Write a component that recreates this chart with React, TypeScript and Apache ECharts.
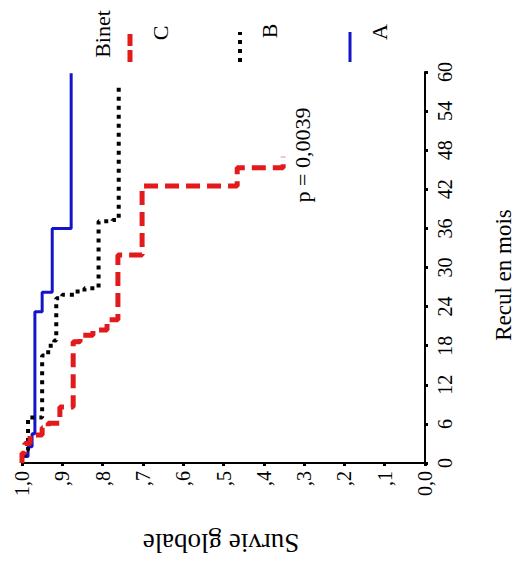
import React, { useEffect, useRef } from 'react';
import * as echarts from 'echarts';

// Survival axis tick labels (index = value * 10)
const survTickLabels = ['0,0', ',1', ',2', ',3', ',4', ',5', ',6', ',7', ',8', ',9', '1,0'];

// Group A (Binet A)
const timesA = [0, 1, 2.5, 4.5, 23.2, 26.2, 36.0];
const survA = [1, 0.985, 0.975, 0.968, 0.95, 0.925, 0.878];
const endA = 59.8;

// Group B (Binet B)
const timesB = [0, 0.5, 2, 7, 16.5, 18, 18.8, 25.3, 25.8, 26.3, 26.8, 37.1, 37.3];
const survB = [1, 0.993, 0.985, 0.95, 0.935, 0.92, 0.915, 0.9, 0.87, 0.845, 0.81, 0.775, 0.76];
const endB = 57.8;

// Group C (Binet C)
const timesC = [0, 1.5, 3, 4.3, 5.4, 6.1, 8.6, 18.6, 19.6, 20.4, 22.0, 31.9, 42.5, 45.3];
const survC = [1, 0.993, 0.98, 0.95, 0.935, 0.906, 0.873, 0.856, 0.824, 0.789, 0.762, 0.702, 0.466, 0.352];
const endC = 47.0;

const pValueText = 'p = 0,0039';
const legendTitle = 'Binet';
const xTitle = 'Recul en mois';
const yTitle = 'Survie globale';

const FONT = "'Liberation Serif', 'Times New Roman', serif";

function stepPoints(times: number[], surv: number[], end: number): number[][] {
  const pts: number[][] = [[surv[0], times[0]]];
  for (let i = 1; i < times.length; i++) {
    pts.push([surv[i - 1], times[i]]);
    pts.push([surv[i], times[i]]);
  }
  pts.push([surv[surv.length - 1], end]);
  return pts;
}

export default function App() {
  const ref = useRef<HTMLDivElement>(null);

  useEffect(() => {
    if (!ref.current) return;
    const chart = echarts.init(ref.current, undefined, { renderer: 'svg' });

    const txt = (text: string, x: number, y: number, size: number, rotation: number) => ({
      type: 'text',
      x,
      y,
      rotation,
      style: {
        text,
        fontSize: size,
        fontFamily: FONT,
        fill: '#000',
        align: 'center',
        verticalAlign: 'middle',
        textAlign: 'center',
        textVerticalAlign: 'middle',
      },
    });

    const legLine = (x: number, color: string, width: number, dash: number[] | null) => ({
      type: 'line',
      shape: { x1: x, y1: 62, x2: x, y2: 32 },
      style: { stroke: color, lineWidth: width, lineDash: dash || undefined, lineCap: 'butt' },
    });

    chart.setOption({
      animation: false,
      backgroundColor: '#fff',
      grid: { left: 22, right: 95, top: 72, bottom: 100, containLabel: false, outerBoundsMode: 'none' },
      xAxis: {
        type: 'value',
        min: 0,
        max: 1,
        interval: 0.1,
        inverse: true,
        position: 'bottom',
        axisLine: { show: true, onZero: false, lineStyle: { color: '#000', width: 2 } },
        axisTick: { show: true, length: 3, lineStyle: { color: '#000', width: 3 } },
        splitLine: { show: false },
        axisLabel: {
          rotate: 90,
          margin: 8,
          fontSize: 20,
          color: '#000',
          fontFamily: FONT,
          formatter: (v: number) => survTickLabels[Math.round(v * 10)],
        },
      },
      yAxis: {
        type: 'value',
        min: 0,
        max: 60,
        interval: 6,
        position: 'right',
        axisLine: { show: true, onZero: false, lineStyle: { color: '#000', width: 2 } },
        axisTick: { show: true, length: 3, lineStyle: { color: '#000', width: 3 } },
        splitLine: { show: false },
        axisLabel: {
          rotate: 90,
          margin: 10,
          fontSize: 20,
          color: '#000',
          fontFamily: FONT,
        },
      },
      series: [
        {
          name: 'A',
          type: 'line',
          showSymbol: false,
          data: stepPoints(timesA, survA, endA),
          lineStyle: { color: '#1414c8', width: 3 },
          z: 3,
        },
        {
          name: 'B',
          type: 'line',
          showSymbol: false,
          data: stepPoints(timesB, survB, endB),
          lineStyle: { color: '#000', width: 4, type: [4, 5], cap: 'butt' },
          z: 4,
        },
        {
          name: 'C',
          type: 'line',
          showSymbol: false,
          data: stepPoints(timesC, survC, endC),
          lineStyle: { color: '#e31a1c', width: 5, type: [14, 7], cap: 'butt' },
          z: 5,
        },
      ],
      graphic: [
        txt(xTitle, 503, 275, 23, Math.PI / 2),
        txt(yTitle, 221, 543, 27, Math.PI),
        txt(pValueText, 302, 155, 22, Math.PI / 2),
        txt(legendTitle, 102, 34, 22, Math.PI / 2),
        legLine(130, '#e31a1c', 5, [12, 4]),
        txt('C', 160, 33, 22, Math.PI / 2),
        legLine(240, '#000', 4, [4, 5]),
        txt('B', 269, 31, 22, Math.PI / 2),
        legLine(350, '#1414c8', 3, null),
        txt('A', 379, 32, 22, Math.PI / 2),
      ],
    });

    return () => chart.dispose();
  }, []);

  return (
    <div
      ref={ref}
      style={{ position: 'absolute', left: 0, top: 0, width: 520, height: 563 }}
    />
  );
}
